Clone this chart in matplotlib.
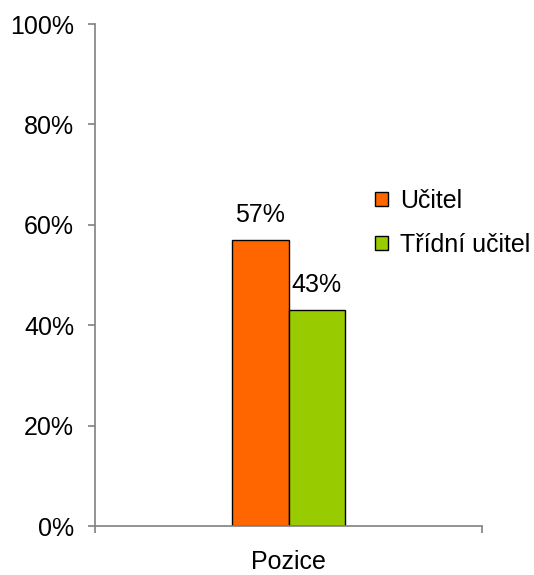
import matplotlib.pyplot as plt
from matplotlib.patches import Patch
from matplotlib.ticker import FuncFormatter

plt.rcParams['font.family'] = ['Liberation Sans', 'DejaVu Sans']

# Podíl odpovědí podle pozice
category = 'Pozice'
series = ['Učitel', 'Třídní učitel']
values = [57, 43]
colors = ['#FF6600', '#99CC00']

fig = plt.figure(figsize=(5.34, 5.75), dpi=100)
ax = fig.add_axes([95 / 534, 1 - 526 / 575, 387 / 534, 502 / 575])

width = 0.146
offsets = [-width / 2, width / 2]
for off, val, col, name in zip(offsets, values, colors, series):
    ax.bar(off, val, width=width, color=col, edgecolor='black', linewidth=1.0, label=name)
    ax.annotate(f'{val}%', (off, val), xytext=(0, 13), textcoords='offset points',
                ha='center', va='baseline', fontsize=18)

ax.set_xlim(-0.5, 0.5)
ax.set_ylim(0, 100)
ax.set_yticks(range(0, 101, 20))
ax.yaxis.set_major_formatter(FuncFormatter(lambda v, p: f'{v:.0f}%'))
ax.set_xticks([0])
ax.set_xticklabels([category])
ax.set_xticks([-0.5, 0.5], minor=True)

for side in ['top', 'right']:
    ax.spines[side].set_visible(False)
for side in ['left', 'bottom']:
    ax.spines[side].set_color('#808080')
    ax.spines[side].set_linewidth(1.2)

ax.tick_params(axis='y', direction='out', length=5, width=1.2, color='#808080',
               labelsize=18, pad=10)
ax.tick_params(axis='x', which='major', length=0, labelsize=18, pad=17)
ax.tick_params(axis='x', which='minor', direction='out', length=5, width=1.2, color='#808080')

handles = [Patch(facecolor=c, edgecolor='black', linewidth=1.0) for c in colors]
fig.legend(handles, series, loc='upper left', bbox_to_anchor=(375 / 534, 1 - 189 / 575),
           frameon=False, fontsize=18, handlelength=0.5, handleheight=0.5,
           handletextpad=0.5, labelspacing=0.78, borderpad=0, borderaxespad=0)

fig.savefig('out.png', dpi=100)
